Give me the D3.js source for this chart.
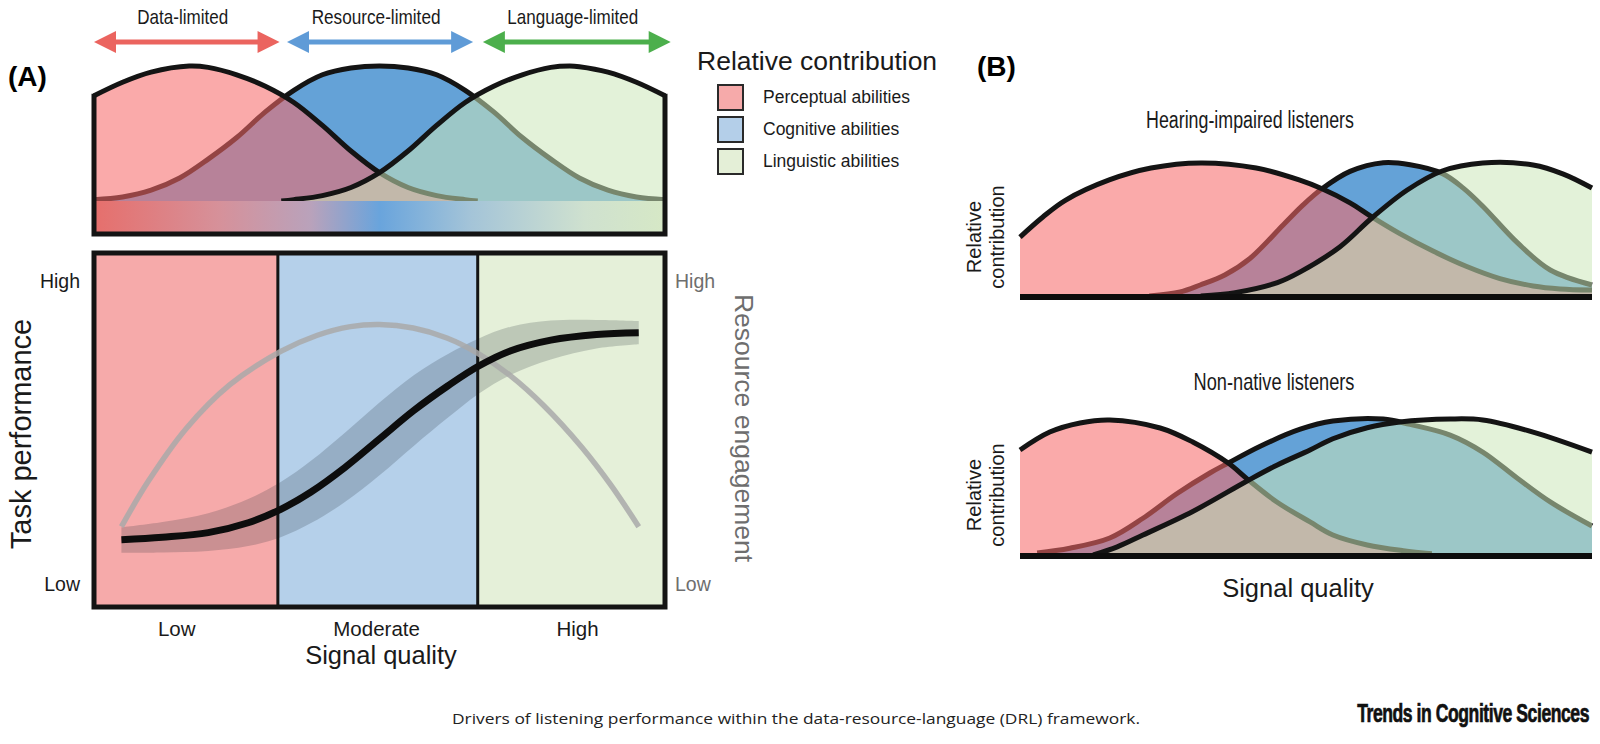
<!DOCTYPE html>
<html>
<head>
<meta charset="utf-8">
<script src="https://cdn.jsdelivr.net/npm/d3@7/dist/d3.min.js"></script>
<style>
  html, body { margin: 0; padding: 0; background: #fff; }
  svg { display: block; font-family: "Liberation Sans", Arial, sans-serif; }
</style>
</head>
<body>
<svg id="chart" width="1600" height="744"></svg>
<script>
// ---------- data ----------
const regimes = ["Data-limited", "Resource-limited", "Language-limited"];
const regimeSpans = [[0, 0.325], [0.338, 0.664], [0.681, 1.01]];
const abilities = ["Perceptual abilities", "Cognitive abilities", "Linguistic abilities"];

// (A) top: relative contribution vs signal quality (0..1)
const aPerceptualX = [0, 0.05, 0.1, 0.1667, 0.2, 0.25, 0.3, 0.35, 0.4, 0.45, 0.5, 0.55, 0.6, 0.65, 0.672];
const aPerceptual  = [0.78, 0.88, 0.955, 1, 0.99, 0.935, 0.85, 0.73, 0.56, 0.37, 0.21, 0.1, 0.04, 0.01, 0];
const aCognitiveX  = [0, 0.05, 0.1, 0.15, 0.2, 0.25, 0.3, 0.35, 0.4, 0.45, 0.5, 0.55, 0.6, 0.65, 0.7, 0.75, 0.8, 0.85, 0.9, 0.95, 1];
const aCognitive   = [0.01, 0.03, 0.08, 0.17, 0.31, 0.47, 0.66, 0.82, 0.935, 0.985, 1, 0.985, 0.935, 0.82, 0.66, 0.47, 0.31, 0.17, 0.08, 0.03, 0.01];
const aLinguisticX = [0.328, 0.35, 0.4, 0.45, 0.5, 0.55, 0.6, 0.65, 0.7, 0.75, 0.8, 0.8333, 0.85, 0.9, 0.95, 1];
const aLinguistic  = [0, 0.01, 0.04, 0.1, 0.21, 0.37, 0.56, 0.73, 0.85, 0.935, 0.99, 1, 0.995, 0.955, 0.88, 0.78];

// (A) bottom: signal quality regions, task performance (with band) and resource engagement (0..100)
const qualityLabels = ["Low", "Moderate", "High"];
const qualityEdges = [0, 32.2, 67.2, 100];
const qualityTicks = [14.4, 49.4, 84.6];
const levelLabels = ["Low", "High"];
const levelValues = [6.5, 92];
const perfX  = [4.8, 12, 20, 27, 32.7, 38, 44, 50, 56, 62, 67.3, 73, 80, 88, 95.4];
const perfY  = [19.0, 19.7, 21.0, 23.8, 27.6, 32.5, 39.5, 47.5, 55.5, 62.5, 68.0, 72.4, 75.4, 77.0, 77.5];
const perfHi = [22.5, 24.0, 26.5, 30.5, 35.3, 41.3, 49.3, 57.8, 65.5, 71.5, 75.8, 79.2, 80.9, 81.1, 80.8];
const perfLo = [15.3, 15.4, 15.8, 17.2, 19.7, 23.7, 29.7, 37.2, 45.5, 53.5, 60.2, 65.6, 69.9, 73.0, 74.2];
const engageX = [4.8, 9.5, 16.2, 23.8, 32.7, 39.0, 44.9, 50.0, 55.9, 61.8, 67.3, 72.8, 78.7, 85.5, 90.5, 95.4];
const engageY = [22.7, 35.5, 50.5, 62.8, 72.2, 76.7, 79.2, 79.8, 78.8, 76.0, 71.6, 65.5, 57.0, 45.0, 34.5, 22.7];

// (B) hearing-impaired listeners (0..100)
const hiPerceptualX = [0, 4, 8, 15.6, 22.9, 31.6, 41.3, 48.8, 52.8, 57.7, 61.5, 66.4, 72.2, 78.1, 83.9, 89.7, 94.4, 100];
const hiPerceptual  = [44, 59, 71.6, 86.6, 95.5, 99.3, 95.5, 86.6, 80, 69.5, 59, 46.5, 33.5, 22, 13, 7.5, 5.3, 4.5];
const hiCognitiveX  = [22.6, 28, 31.5, 35.8, 40.2, 46, 49.5, 52.8, 57.7, 63.5, 68.2, 73.8, 77.5, 80.9, 86.9, 92.7, 100];
const hiCognitive   = [0, 3, 8.2, 15.7, 28, 53, 68, 80, 93, 99.5, 98, 91.5, 80.5, 67, 40, 19.4, 8.2];
const hiLinguisticX = [31.6, 37.6, 45, 49, 55.9, 61.5, 67.7, 73.8, 80.9, 89.7, 95, 100];
const hiLinguistic  = [0, 2.5, 10, 18, 36.6, 58.2, 79.1, 93.3, 99.3, 97.8, 91, 80.6];

// (B) non-native listeners (0..100)
const nnPerceptualX = [0, 5.2, 10.5, 15.7, 24.5, 30.2, 36.4, 39.7, 44.9, 50.7, 54.7, 60.7, 67, 72];
const nnPerceptual  = [77.2, 90.4, 97.1, 99.3, 93.4, 83.1, 67.6, 56, 39, 24.3, 14.7, 7.4, 3.2, 1];
const nnCognitiveX  = [3, 8.7, 15.7, 21.5, 27.4, 33.2, 36.4, 42, 49, 54.7, 63.5, 68.2, 75.2, 80.9, 86.9, 92.7, 100];
const nnCognitive   = [1.5, 5, 12.5, 27, 45, 60.3, 67.6, 80, 92.5, 98.5, 100, 96, 88.2, 75.7, 56.6, 39, 21.3];
const nnLinguisticX = [12.8, 17, 21.5, 30.2, 39.7, 44.9, 50.7, 54.7, 60.7, 66.4, 75.2, 80.9, 89.7, 100];
const nnLinguistic  = [0, 6, 14.7, 32, 54.4, 66, 77.2, 85.5, 93.6, 97.8, 100, 99.3, 90.4, 75.7];

// ---------- styles ----------
const regimeColors = ["#eb645f", "#5f9bd7", "#4caf4c"];
const regionColors = ["#f6aaaa", "#b5d0ea", "#e5f0d9"];
// fills are layered: cognitive first, then perceptual, then linguistic on top
const ridgeFill = {
  perceptual: { fill: "#f66969", opacity: 0.57 },
  cognitive:  { fill: "#64a2d7", opacity: 1 },
  linguistic: { fill: "#cce7b9", opacity: 0.54 }
};
const INK = "#141414";
const smooth = d3.curveCatmullRom.alpha(0.5);

const svg = d3.select("#chart");
const zip = (xs, ys) => xs.map((d, i) => [d, ys[i]]);

// narrow-looking text: squeeze horizontally to a given width
function squeeze(sel, x, y, width) {
  const n = sel.node().getComputedTextLength();
  sel.attr("transform", `translate(${x},${y}) scale(${width / n},1)`);
  return sel;
}

function drawRidges(g, x, y, series, strokeW) {
  const area = d3.area().x(d => x(d[0])).y0(y(0)).y1(d => Math.min(y(0), y(d[1]))).curve(smooth);
  const line = d3.line().x(d => x(d[0])).y(d => Math.min(y(0), y(d[1]))).curve(smooth);
  series.forEach(s => {
    g.append("path").attr("d", area(s.pts))
      .attr("fill", s.style.fill).attr("fill-opacity", s.style.opacity);
    g.append("path").attr("d", line(s.pts))
      .attr("fill", "none").attr("stroke", INK)
      .attr("stroke-width", strokeW).attr("stroke-linejoin", "round");
  });
}

// ================= (A) =================
svg.append("text").attr("x", 8).attr("y", 86)
  .style("font-weight", "bold").style("font-size", "28px").text("(A)");

const xA = d3.scaleLinear().domain([0, 1]).range([94, 665]);
const yA = d3.scaleLinear().domain([0, 1]).range([201, 66]);

// regime arrows
const arrows = svg.append("g");
const regimeWidths = [91, 129, 131];
regimes.forEach((name, i) => {
  const [a, b] = regimeSpans[i].map(xA);
  const yy = 42, head = 22, half = 11;
  const c = regimeColors[i];
  arrows.append("line").attr("x1", a + head - 2).attr("x2", b - head + 2)
    .attr("y1", yy).attr("y2", yy).attr("stroke", c).attr("stroke-width", 5);
  arrows.append("path").attr("fill", c)
    .attr("d", `M${a},${yy} L${a + head},${yy - half} L${a + head},${yy + half} Z`);
  arrows.append("path").attr("fill", c)
    .attr("d", `M${b},${yy} L${b - head},${yy - half} L${b - head},${yy + half} Z`);
  const t = arrows.append("text").attr("text-anchor", "middle")
    .style("font-size", "20px").attr("fill", "#1a1a1a").text(name);
  squeeze(t, (a + b) / 2 - 4, 24, regimeWidths[i]);
});

// ridges
const gTop = svg.append("g");
drawRidges(gTop, xA, yA, [
  { pts: zip(aCognitiveX, aCognitive), style: ridgeFill.cognitive },
  { pts: zip(aPerceptualX, aPerceptual), style: ridgeFill.perceptual },
  { pts: zip(aLinguisticX, aLinguistic), style: ridgeFill.linguistic }
], 5);

// gradient bar under the ridges
const defs = svg.append("defs");
const grad = defs.append("linearGradient").attr("id", "sqGrad");
[[0, "#e66f6c"], [0.22, "#d6919a"], [0.38, "#b9a2bb"], [0.5, "#69a4dc"],
 [0.66, "#a4c4d8"], [0.86, "#cfe1cf"], [1, "#d6e8c6"]].forEach(([o, c]) =>
  grad.append("stop").attr("offset", o).attr("stop-color", c));
gTop.append("rect").attr("x", xA(0)).attr("y", yA(0)).attr("width", xA(1) - xA(0))
  .attr("height", 32).attr("fill", "url(#sqGrad)");

gTop.append("path")
  .attr("d", `M${xA(0)},${yA(aPerceptual[0]) - 2} V234 H${xA(1)} V${yA(aLinguistic[aLinguistic.length - 1]) - 2}`)
  .attr("fill", "none").attr("stroke", INK).attr("stroke-width", 5);

// legend
const legend = svg.append("g");
legend.append("text").attr("x", 697).attr("y", 70).style("font-size", "26.5px")
  .attr("fill", "#1a1a1a").text("Relative contribution");
const legendFill = ["#f6aaaa", "#b4cfe9", "#e4efd7"];
abilities.forEach((name, i) => {
  const yy = 85 + i * 32;
  legend.append("rect").attr("x", 718).attr("y", yy).attr("width", 25).attr("height", 25)
    .attr("fill", legendFill[i]).attr("stroke", "#2a2a2a").attr("stroke-width", 2);
  legend.append("text").attr("x", 763).attr("y", yy + 18).style("font-size", "17.5px")
    .attr("fill", "#1a1a1a").text(name);
});

// bottom panel
const xP = d3.scaleLinear().domain([0, 100]).range([94, 665]);
const yP = d3.scaleLinear().domain([0, 100]).range([607, 253]);
const gBot = svg.append("g");

qualityLabels.forEach((q, i) => {
  gBot.append("rect").attr("x", xP(qualityEdges[i])).attr("y", yP(100))
    .attr("width", xP(qualityEdges[i + 1]) - xP(qualityEdges[i]))
    .attr("height", yP(0) - yP(100)).attr("fill", regionColors[i]);
});

const bandPts = perfX.map((d, i) => ({ x: d, lo: perfLo[i], hi: perfHi[i] }));
gBot.append("path")
  .attr("d", d3.area().x(d => xP(d.x)).y0(d => yP(d.lo)).y1(d => yP(d.hi)).curve(smooth)(bandPts))
  .attr("fill", "#1e2630").attr("fill-opacity", 0.2);

gBot.selectAll("line.divider").data(qualityEdges.slice(1, 3)).enter().append("line")
  .attr("x1", d => xP(d)).attr("x2", d => xP(d)).attr("y1", yP(100)).attr("y2", yP(0))
  .attr("stroke", INK).attr("stroke-width", 3);

const lineP = d3.line().x(d => xP(d[0])).y(d => yP(d[1])).curve(smooth);
gBot.append("path").attr("d", lineP(zip(engageX, engageY)))
  .attr("fill", "none").attr("stroke", "#a9a9a9").attr("stroke-opacity", 0.85).attr("stroke-width", 5.5);
gBot.append("path").attr("d", lineP(zip(perfX, perfY)))
  .attr("fill", "none").attr("stroke", "#0d0d0d").attr("stroke-width", 7);

gBot.append("rect").attr("x", xP(0)).attr("y", yP(100))
  .attr("width", xP(100) - xP(0)).attr("height", yP(0) - yP(100))
  .attr("fill", "none").attr("stroke", INK).attr("stroke-width", 5);

// axes
const levelAxisL = d3.axisLeft(yP).tickValues(levelValues).tickSize(0).tickPadding(14)
  .tickFormat((d, i) => levelLabels[i]);
const gL = gBot.append("g").attr("transform", `translate(${xP(0)},0)`).call(levelAxisL);
const levelAxisR = d3.axisRight(yP).tickValues(levelValues).tickSize(0).tickPadding(10)
  .tickFormat((d, i) => levelLabels[i]);
const gR = gBot.append("g").attr("transform", `translate(${xP(100)},0)`).call(levelAxisR);
const qualityAxis = d3.axisBottom(xP).tickValues(qualityTicks).tickSize(0).tickPadding(14)
  .tickFormat((d, i) => qualityLabels[i]);
const gX = gBot.append("g").attr("transform", `translate(0,${yP(0)})`).call(qualityAxis);
[gL, gR, gX].forEach(g => {
  g.select(".domain").remove();
  g.selectAll("text").style("font-family", "Liberation Sans, Arial, sans-serif");
});
gL.selectAll("text").style("font-size", "19.5px").attr("fill", "#1a1a1a");
gR.selectAll("text").style("font-size", "19.5px").attr("fill", "#6e6e6e");
gX.selectAll("text").style("font-size", "20.5px").attr("fill", "#1a1a1a");

svg.append("text").attr("transform", "translate(31,434) rotate(-90)")
  .attr("text-anchor", "middle").style("font-size", "29px").attr("fill", "#1a1a1a")
  .text("Task performance");
svg.append("text").attr("transform", "translate(735,428) rotate(90)")
  .attr("text-anchor", "middle").style("font-size", "26.5px").attr("fill", "#6e6e6e")
  .text("Resource engagement");
svg.append("text").attr("x", 381).attr("y", 664).attr("text-anchor", "middle")
  .style("font-size", "25.5px").attr("fill", "#1a1a1a").text("Signal quality");

// ================= (B) =================
svg.append("text").attr("x", 977).attr("y", 76)
  .style("font-weight", "bold").style("font-size", "28px").text("(B)");

const xB = d3.scaleLinear().domain([0, 100]).range([1020, 1592]);

const groupsB = [
  { title: "Hearing-impaired listeners", titleW: 208, titleX: 1250, base: 296, top: 162, titleY: 128, labelY: 237,
    series: [[hiCognitiveX, hiCognitive, "cognitive"], [hiPerceptualX, hiPerceptual, "perceptual"], [hiLinguisticX, hiLinguistic, "linguistic"]] },
  { title: "Non-native listeners", titleW: 161, titleX: 1274, base: 555, top: 419, titleY: 390, labelY: 495,
    series: [[nnCognitiveX, nnCognitive, "cognitive"], [nnPerceptualX, nnPerceptual, "perceptual"], [nnLinguisticX, nnLinguistic, "linguistic"]] }
];

groupsB.forEach(grp => {
  const y = d3.scaleLinear().domain([0, 100]).range([grp.base, grp.top]);
  const g = svg.append("g");
  drawRidges(g, xB, y, grp.series.map(s => ({ pts: zip(s[0], s[1]), style: ridgeFill[s[2]] })), 5);
  g.append("line").attr("x1", xB(0)).attr("x2", xB(100)).attr("y1", y(0) + 1).attr("y2", y(0) + 1)
    .attr("stroke", "#0d0d0d").attr("stroke-width", 6);
  const t = g.append("text").attr("text-anchor", "middle")
    .style("font-size", "23px").attr("fill", "#1a1a1a").text(grp.title);
  squeeze(t, grp.titleX, grp.titleY, grp.titleW);
  const lab = g.append("text").attr("transform", `translate(981,${grp.labelY}) rotate(-90)`)
    .attr("text-anchor", "middle").style("font-size", "20px").attr("fill", "#1a1a1a");
  lab.append("tspan").attr("x", 0).attr("y", 0).text("Relative");
  lab.append("tspan").attr("x", 0).attr("y", 23).text("contribution");
});

svg.append("text").attr("x", 1298).attr("y", 597).attr("text-anchor", "middle")
  .style("font-size", "25.5px").attr("fill", "#1a1a1a").text("Signal quality");

// caption + journal mark
svg.append("text").attr("x", 796).attr("y", 724).attr("text-anchor", "middle")
  .style("font-family", "'Open Sans', sans-serif").style("font-size", "14.5px").attr("fill", "#222")
  .attr("textLength", 688).attr("lengthAdjust", "spacingAndGlyphs")
  .text("Drivers of listening performance within the data-resource-language (DRL) framework.");
const logo = svg.append("text").attr("text-anchor", "end")
  .style("font-weight", "bold").style("font-size", "25px").style("letter-spacing", "-0.6px")
  .attr("fill", "#111").attr("stroke", "#111").attr("stroke-width", 0.7)
  .text("Trends in Cognitive Sciences");
squeeze(logo, 1589, 722, 232);
</script>
</body>
</html>
